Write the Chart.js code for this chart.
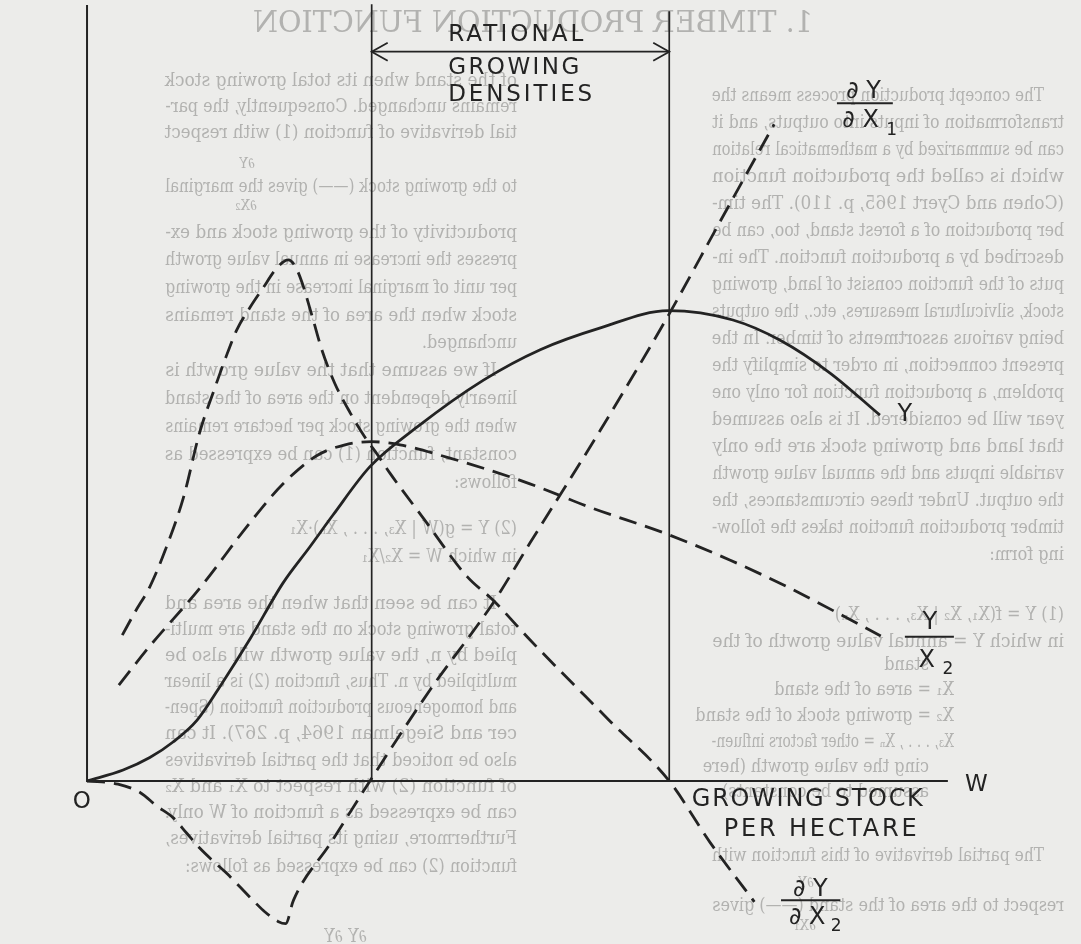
<!DOCTYPE html>
<html>
<head>
<meta charset="utf-8">
<title>Timber production function</title>
<script src="https://cdn.jsdelivr.net/npm/chart.js@4.4.1/dist/chart.umd.min.js"></script>
<style>
  html, body { margin: 0; padding: 0; width: 1081px; height: 944px; overflow: hidden; background: #ececea; }
  /* the printed text of the other side of the leaf shows through, mirrored */
  #page { position: absolute; left: 0; top: 0; width: 1081px; height: 944px; transform: scaleX(-1);
          color: #b2b2b0; font-family: "DejaVu Serif", serif; font-size: 18px; }
  #page .l { position: absolute; height: 24px; line-height: 24px; white-space: nowrap; transform-origin: 0 50%; }
  #page .h { font-size: 29px; }
  #page .s { font-size: 15px; }
  #chart { position: absolute; left: 0; top: 0; }
</style>
</head>
<body>
<div id="page"></div>
<canvas id="chart" width="1081" height="944"></canvas>
<script>
// ---- curves (W = growing stock per hectare) ----
// Y, annual value growth
const yW   = [0, 4.2, 7.3, 10.0, 12.8, 15.8, 19.0, 22.8, 25.9, 28.6, 32.9, 38.4, 46.1, 52.7, 59.7, 67.6, 75.1, 80.6, 86.4, 92.2];
const yVal = [0, 1.4, 3.0, 5.0, 7.8, 12.7, 18.3, 25.4, 30.0, 34.1, 40.3, 45.4, 51.4, 55.3, 58.1, 60.3, 59.1, 56.5, 52.3, 46.9];

// dY/dX1, marginal productivity of land
const mpLandW   = [0, 3.6, 6.2, 8.1, 10.0, 11.6, 13.1, 14.7, 16.3, 17.8, 19.3, 20.7, 22.2, 23.1, 24.0, 28.3, 32.9, 39.9, 47.2, 51.5, 59.7, 67.6, 73.6, 79.9];
const mpLandVal = [0, -0.4, -1.5, -3.2, -4.7, -6.7, -8.6, -10.3, -11.9, -13.6, -15.3, -16.8, -18.0, -18.3, -15.3, -8.0, 0, 11.7, 22.8, 30.5, 45.0, 59.7, 71.7, 84.2];

// dY/dX2, marginal productivity of growing stock
const mpStockW   = [4.1, 5.6, 7.3, 9.1, 11.2, 13.1, 14.7, 16.1, 17.4, 19.0, 20.4, 22.1, 23.4, 24.2, 25.0, 26.2, 27.3, 28.8, 30.6, 32.3, 33.8, 35.2, 39.1, 44.2, 47.2, 51.5, 60.7, 67.7, 72.4, 77.6];
const mpStockVal = [18.7, 21.7, 24.9, 29.6, 36.3, 44.7, 49.9, 54.2, 57.8, 60.8, 63.1, 65.8, 66.8, 66.0, 63.9, 59.5, 55.3, 51.0, 47.2, 44.1, 41.8, 39.5, 33.7, 26.2, 23.2, 18.1, 7.8, 0, -7.8, -15.5];

// Y/X2, average productivity of growing stock
const apStockW   = [3.7, 7.3, 13.1, 19.0, 22.8, 26.7, 30.0, 33.1, 36.4, 42.2, 46.1, 51.5, 58.7, 67.1, 74.8, 81.4, 92.3];
const apStockVal = [12.3, 17.3, 24.7, 33.2, 38.1, 41.7, 43.1, 43.5, 43.1, 41.4, 40.1, 38.1, 35.0, 31.8, 28.3, 24.9, 18.6];

// frame: axes and the limits of the rational growing densities
const axisW = [0, 0, 100.1];
const axisV = [99.5, 0, 0];
const lowLimit = 33.1, highLimit = 67.7;
const lowTop = 99.6, highTop = 98.7;
const arrowLevel = 93.5;

// ---- the show-through text ----
const heading = '1. TIMBER PRODUCTION FUNCTION';
const colA = [
  [95, 'The concept production process means the', 20, 1],
  [122, 'transformation of inputs into outputs, and it', 0, 1],
  [149, 'can be summarized by a mathematical relation', 0, 1],
  [176, 'which is called the production function', 0, 1],
  [203, '(Cohen and Cyert 1965, p. 110). The tim-', 0, 1],
  [230, 'ber production of a forest stand, too, can be', 0, 1],
  [257, 'described by a production function. The in-', 0, 1],
  [284, 'puts of the function consist of land, growing', 0, 1],
  [311, 'stock, silvicultural measures, etc., the outputs', 0, 1],
  [338, 'being various assortments of timber. In the', 0, 1],
  [365, 'present connection, in order to simplify the', 0, 1],
  [392, 'problem, a production function for only one', 0, 1],
  [419, 'year will be considered. It is also assumed', 0, 1],
  [446, 'that land and growing stock are the only', 0, 1],
  [473, 'variable inputs and the annual value growth', 0, 1],
  [500, 'the output. Under these circumstances, the', 0, 1],
  [527, 'timber production function takes the follow-', 0, 1],
  [554, 'ing form:', 0, 0],
  [614, '(1)        Y = f(X₁, X₂ | X₃, . . . , Xₙ)', 0, 0],
  [641, 'in which Y = annual value growth of the', 0, 1],
  [664, 'stand', 135, 0],
  [689, 'X₁ = area of the stand', 110, 0],
  [715, 'X₂ = growing stock of the stand', 110, 0],
  [741, 'X₃, . . . , Xₙ = other factors influen-', 110, 1],
  [766, 'cing the value growth (here', 135, 0],
  [791, 'assumed to be constants)', 135, 0],
  [855, 'The partial derivative of this function with', 20, 1],
  [882, '∂Y', 250, 0, 's'],
  [905, 'respect to the area of the stand (——) gives', 0, 1],
  [925, '∂X₁', 248, 0, 's'],
  [954, 'the marginal productivity of the land. If', 0, 1]
];
const colB = [
  [80, 'of the stand when its total growing stock', 0, 1],
  [106, 'remains unchanged. Consequently, the par-', 0, 1],
  [132, 'tial derivative of function (1) with respect', 0, 1],
  [163, '∂Y', 262, 0, 's'],
  [186, 'to the growing stock (——) gives the marginal', 0, 1],
  [205, '∂X₂', 260, 0, 's'],
  [232, 'productivity of the growing stock and ex-', 0, 1],
  [259, 'presses the increase in annual value growth', 0, 1],
  [287, 'per unit of marginal increase in the growing', 0, 1],
  [315, 'stock when the area of the stand remains', 0, 1],
  [342, 'unchanged.', 0, 0],
  [370, 'If we assume that the value growth is', 20, 1],
  [398, 'linearly dependent on the area of the stand', 0, 1],
  [426, 'when the growing stock per hectare remains', 0, 1],
  [454, 'constant, function (1) can be expressed as', 0, 1],
  [482, 'follows:', 0, 0],
  [528, '(2)        Y = g(W | X₃, . . . , Xₙ)·X₁', 0, 0],
  [556, 'in which W = X₂/X₁', 0, 0],
  [603, 'It can be seen that when the area and', 20, 1],
  [629, 'total growing stock on the stand are multi-', 0, 1],
  [655, 'plied by n, the value growth will also be', 0, 1],
  [681, 'multiplied by n. Thus, function (2) is a linear', 0, 1],
  [707, 'and homogeneous production function (Spen-', 0, 1],
  [733, 'cer and Siegelman 1964, p. 267). It can', 0, 1],
  [760, 'also be noticed that the partial derivatives', 0, 1],
  [786, 'of function (2) with respect to X₁ and X₂', 0, 1],
  [812, 'can be expressed as a function of W only.', 0, 1],
  [838, 'Furthermore, using its partial derivatives,', 0, 1],
  [866, 'function (2) can be expressed as follows:', 0, 0],
  [936, '∂Y                 ∂Y', 150, 0]
];

const page = document.getElementById('page');
const loose = [];
const squeeze = [];
function addLine(text, left, y, width, fit, cls) {
  const d = document.createElement('div');
  d.className = 'l' + (cls ? ' ' + cls : '');
  d.textContent = text;
  d.style.left = left + 'px';
  d.style.top = (y - 12) + 'px';
  page.appendChild(d);
  if (fit) {
    const w = d.offsetWidth;
    if (w > 0) { d.style.transform = 'scaleX(' + (width / w) + ')'; squeeze.push(width / w); }
  } else {
    loose.push(d);
  }
}
addLine(heading, 268, 22, 560, true, 'h');
colA.forEach(([y, t, ind, j, c]) => addLine(t, 17 + ind, y, 352 - ind, j, c));
colB.forEach(([y, t, ind, j, c]) => addLine(t, 564 + ind, y, 352 - ind, j, c));
// short lines get the same set width as the full ones
const sq = squeeze.slice(1).sort((a, b) => a - b)[Math.floor((squeeze.length - 1) / 2)];
loose.forEach(d => { d.style.transform = 'scaleX(' + sq + ')'; });

// ---- chart ----
const ink = '#232323';
const pts = (xs, ys) => xs.map((v, i) => ({ x: v, y: ys[i] }));

function spaced(ctx, text, left, cy, width) {
  ctx.letterSpacing = '0px';
  const w0 = ctx.measureText(text).width;
  const ls = text.length > 1 ? (width - w0) / (text.length - 1) : 0;
  ctx.letterSpacing = ls + 'px';
  ctx.textAlign = 'left';
  ctx.fillText(text, left, cy);
  ctx.letterSpacing = '0px';
}

const labelPlugin = {
  id: 'diagramLabels',
  afterDatasetsDraw(chart) {
    const { ctx, scales: { x, y } } = chart;
    const px = v => x.getPixelForValue(v);
    const py = v => y.getPixelForValue(v);
    ctx.save();
    ctx.fillStyle = ink;
    ctx.strokeStyle = ink;
    ctx.lineWidth = 1.8;
    ctx.textBaseline = 'middle';

    // arrow heads on the density range
    const ay = py(arrowLevel), l = px(lowLimit), r = px(highLimit);
    ctx.beginPath();
    ctx.moveTo(l + 16, ay - 9); ctx.lineTo(l, ay); ctx.lineTo(l + 16, ay + 9);
    ctx.moveTo(r - 16, ay - 9); ctx.lineTo(r, ay); ctx.lineTo(r - 16, ay + 9);
    ctx.stroke();

    ctx.font = '23px "DejaVu Sans"';
    spaced(ctx, 'RATIONAL', px(42.0), py(95.6), 135);
    spaced(ctx, 'GROWING', px(42.0), py(91.4), 131);
    spaced(ctx, 'DENSITIES', px(42.0), py(87.9), 144);

    ctx.font = '24px "DejaVu Sans"';
    spaced(ctx, 'GROWING STOCK', px(83.7) - 115, py(-2.4), 231);
    spaced(ctx, 'PER HECTARE', px(85.2) - 96, py(-6.3), 193);

    ctx.textAlign = 'center';
    ctx.font = '23px "DejaVu Sans"';
    ctx.fillText('O', px(-0.6), py(-2.7));
    ctx.fillText('W', px(103.4), py(-0.5));
    ctx.font = '24px "DejaVu Sans"';
    ctx.fillText('Y', px(95.1), py(47.0));

    // fraction labels
    function frac(num, den, sub, cx, yNum, yBar, yDen, barL, barR, subDx) {
      ctx.font = '24px "DejaVu Sans"';
      ctx.textAlign = 'center';
      ctx.fillText(num, px(cx), py(yNum));
      ctx.fillText(den, px(cx) - 3, py(yDen));
      ctx.beginPath();
      ctx.lineWidth = 2;
      ctx.moveTo(px(barL), py(yBar)); ctx.lineTo(px(barR), py(yBar));
      ctx.stroke();
      ctx.font = '17px "DejaVu Sans"';
      ctx.fillText(sub, px(cx) + subDx, py(yDen) + 9);
    }
    frac('∂ Y', '∂ X', '1', 90.3, 88.4, 86.9, 84.6, 87.2, 93.7, 28);
    frac('Y', 'X', '2', 98.0, 20.3, 18.5, 15.4, 95.1, 100.8, 18);
    frac('∂ Y', '∂ X', '2', 84.1, -14.0, -15.3, -17.5, 80.7, 87.6, 26);

    ctx.restore();
  }
};

const dashed = [18, 9];
const line = (data, extra) => Object.assign({
  data, borderColor: ink, borderWidth: 2.8, pointRadius: 0, pointHitRadius: 0,
  fill: false, tension: 0, borderCapStyle: 'butt'
}, extra);

new Chart(document.getElementById('chart').getContext('2d'), {
  type: 'line',
  data: {
    datasets: [
      line(pts(axisW, axisV), { label: 'axes', borderWidth: 2 }),
      line(pts([lowLimit, lowLimit], [0, lowTop]), { label: 'lower limit', borderWidth: 1.7 }),
      line(pts([highLimit, highLimit], [0, highTop]), { label: 'upper limit', borderWidth: 1.7 }),
      line(pts([lowLimit, highLimit], [arrowLevel, arrowLevel]), { label: 'rational growing densities', borderWidth: 1.8 }),
      line(pts(yW, yVal), { label: 'Y', cubicInterpolationMode: 'monotone' }),
      line(pts(mpLandW, mpLandVal), { label: 'dY/dX1', borderDash: dashed, cubicInterpolationMode: 'monotone' }),
      line(pts(mpStockW, mpStockVal), { label: 'dY/dX2', borderDash: dashed, cubicInterpolationMode: 'monotone' }),
      line(pts(apStockW, apStockVal), { label: 'Y/X2', borderDash: dashed, cubicInterpolationMode: 'monotone' })
    ]
  },
  options: {
    responsive: false,
    animation: false,
    layout: { padding: 0 },
    plugins: { legend: { display: false }, tooltip: { enabled: false } },
    scales: {
      x: { type: 'linear', min: -10.12, max: 115.58, display: false },
      y: { type: 'linear', min: -20.9, max: 100.13, display: false }
    }
  },
  plugins: [labelPlugin]
});
</script>
</body>
</html>
